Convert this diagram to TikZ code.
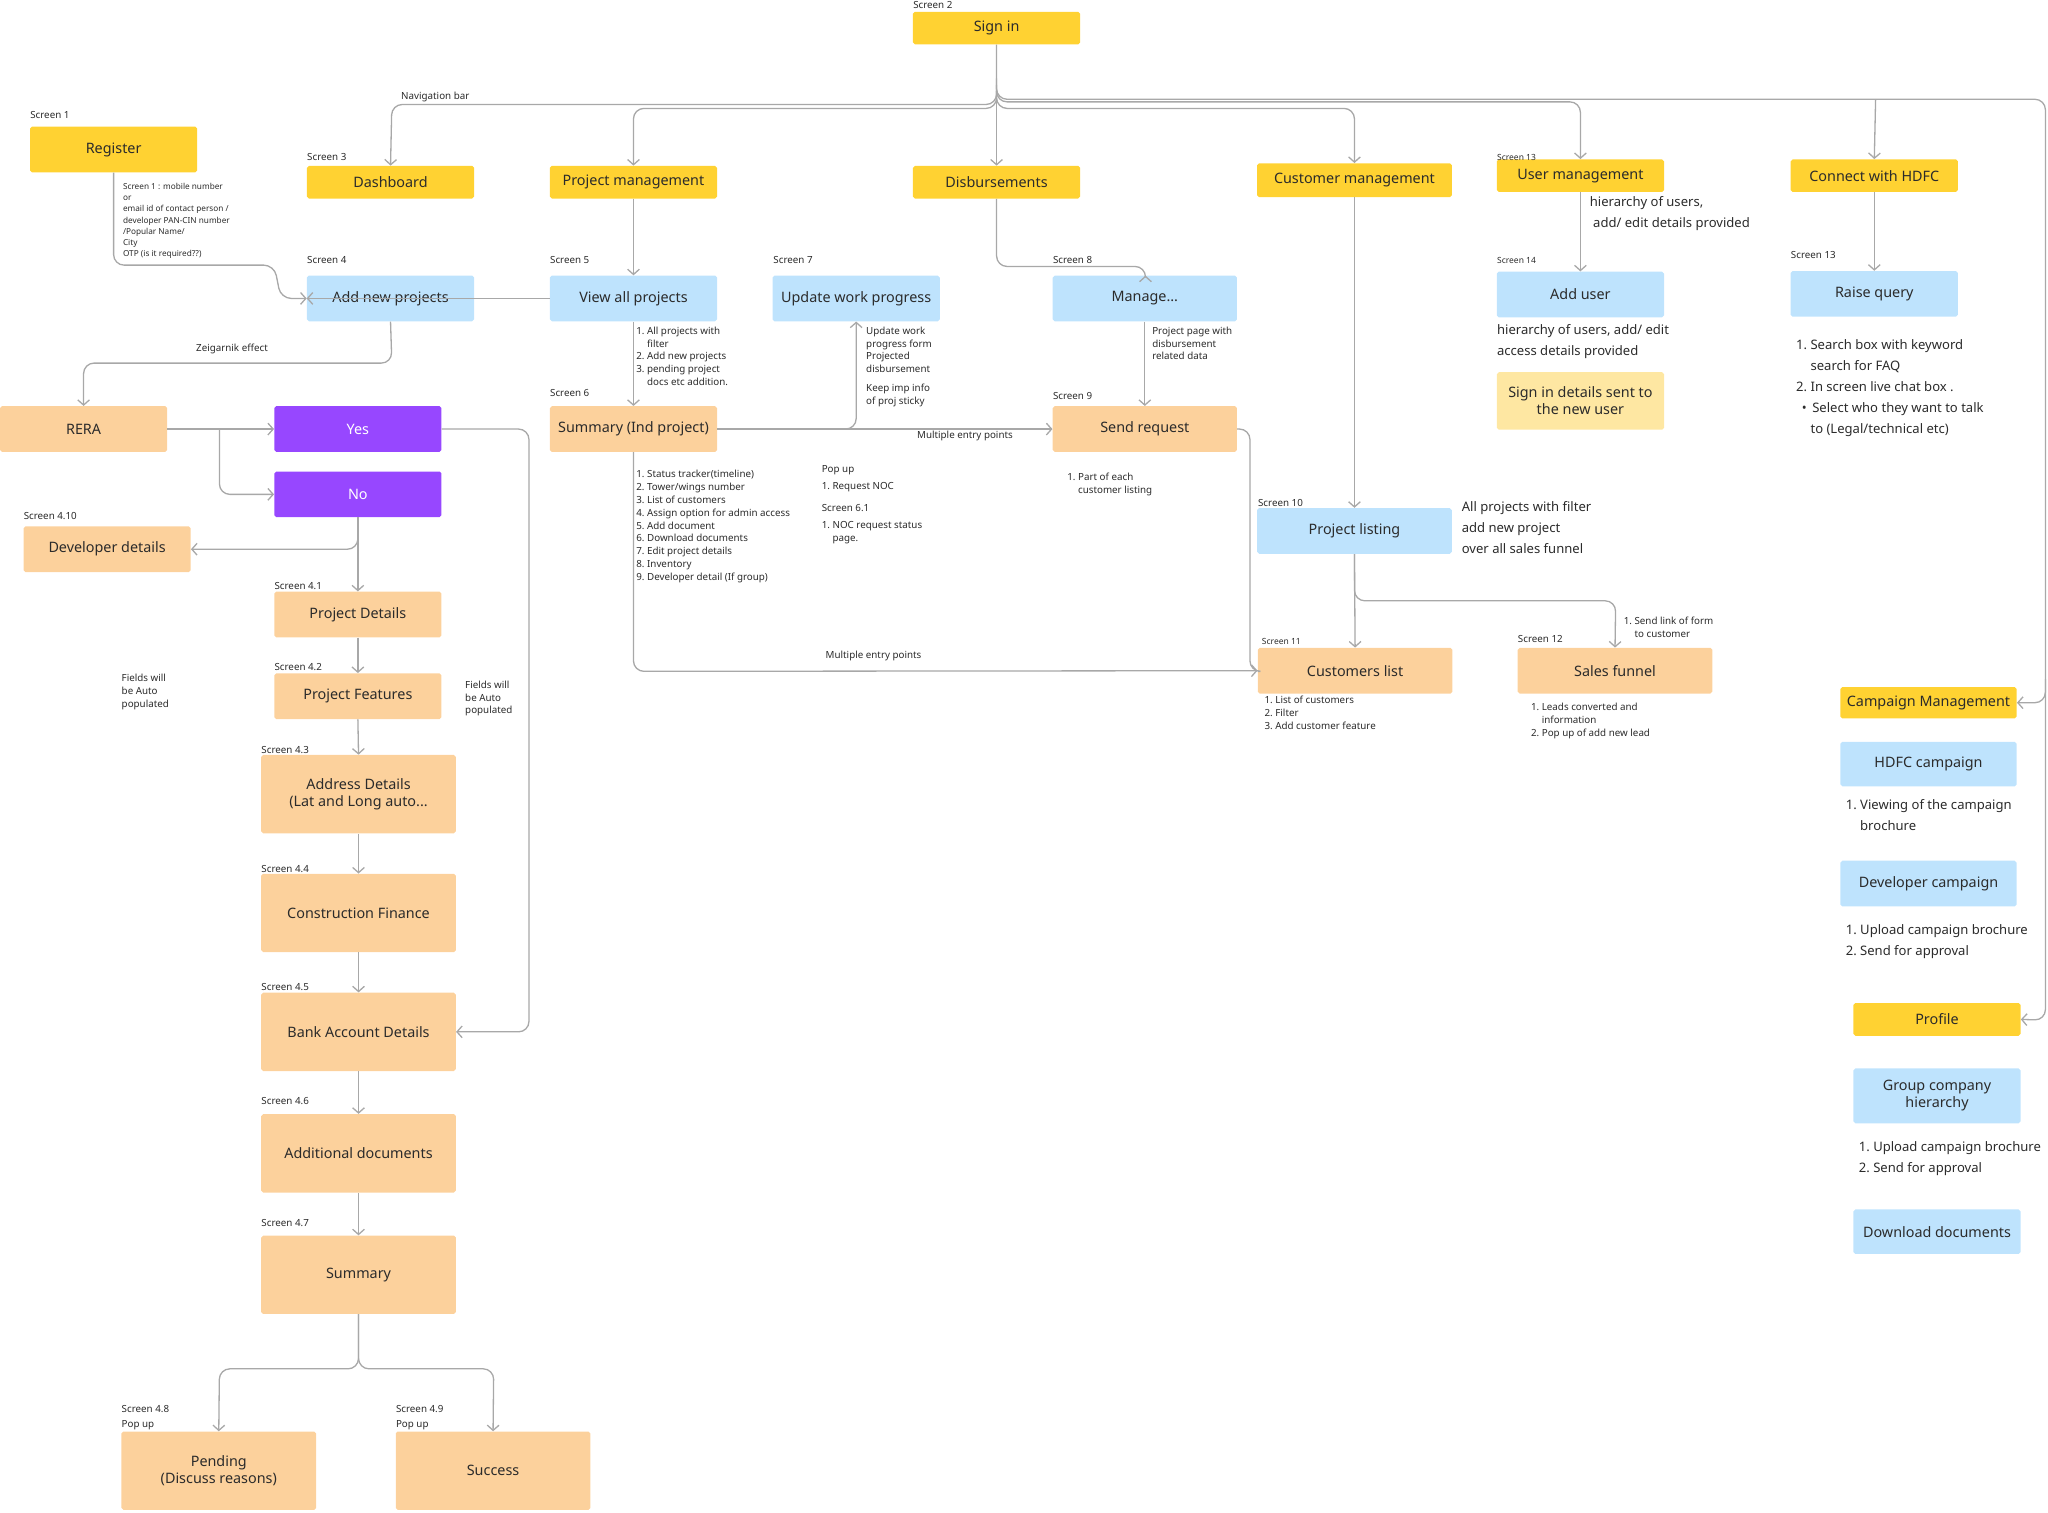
\documentclass[tikz,border=0pt]{standalone}
\usepackage{fontspec}
\setmainfont{Noto Sans}
\usetikzlibrary{arrows.meta}
\definecolor{yel}{HTML}{FFD232}
\definecolor{blu}{HTML}{BEE3FD}
\definecolor{ora}{HTML}{FCD19C}
\definecolor{pur}{HTML}{9747FF}
\definecolor{pyl}{HTML}{FEE7A2}
\definecolor{ln}{HTML}{A8A8A8}
\definecolor{tx}{HTML}{2B2B2B}
\newcommand{\hp}{\hphantom{1.~}}
\begin{document}
\begin{tikzpicture}[x=1pt,y=-1pt,
  bx/.style={rounded corners=1.5pt,inner sep=2pt,align=center,font=\fontsize{11}{13}\selectfont\bfseries,text=tx},
  yb/.style={bx,fill=yel},
  bb/.style={bx,fill=blu},
  ob/.style={bx,fill=ora},
  pb/.style={bx,fill=pur,text=white},
  sb/.style={bx,fill=pyl},
  s/.style={minimum width=128pt,minimum height=25pt},
  m/.style={minimum width=128pt,minimum height=35pt},
  l/.style={minimum width=149pt,minimum height=60pt},
  scr/.style={anchor=south west,inner sep=0pt,font=\fontsize{7.5}{9}\selectfont,text=tx},
  nt/.style={anchor=north west,inner sep=0pt,align=left,font=\fontsize{7.5}{9.8}\selectfont,text=tx},
  nb/.style={anchor=north west,inner sep=0pt,align=left,font=\fontsize{10}{16}\selectfont,text=tx},
  ar/.style={draw=ln,line width=1pt,rounded corners=8pt,-{Straight Barb[length=4pt,width=9pt]}},
  ln/.style={draw=ln,line width=1pt,rounded corners=8pt}]
\useasboundingbox (0,0) rectangle (1568,1158);
% boxes
\node[yb,s] (signin) at (763,21.5) {Sign in};
\node[scr] (s2) at (699,7) {Screen 2};
\node[yb,m] (register) at (87,114.5) {Register};
\node[scr] (s1) at (23,91) {Screen 1};
\node[yb,s] (dash) at (299,139.5) {Dashboard};
\node[scr] (s3) at (235,123) {Screen 3};
\node[yb,s] (pm) at (485,139.5) {Project management};
\node[yb,s] (disb) at (763,139.5) {Disbursements};
\node[yb,minimum width=149pt,minimum height=26pt] (cm) at (1037,138) {Customer management};
\node[yb,s] (um) at (1210,134.5) {User management};
\node[scr,font=\fontsize{6.5}{8}\selectfont] (s13a) at (1146,123) {Screen 13};
\node[yb,s] (hdfc) at (1435,134.5) {Connect with HDFC};
\node[bb,m] (anp) at (299,228.5) {Add new projects};
\node[scr] (s4) at (235,202) {Screen 4};
\node[bb,m] (vap) at (485,228.5) {View all projects};
\node[scr] (s5) at (421,202) {Screen 5};
\node[bb,m] (uwp) at (655.5,228.5) {Update work progress};
\node[scr] (s7) at (592,202) {Screen 7};
\node[bb,minimum width=141pt,minimum height=35pt] (man) at (876.5,228.5) {Manage...};
\node[scr] (s8) at (806,202) {Screen 8};
\node[bb,m] (adu) at (1210,225.5) {Add user};
\node[scr,font=\fontsize{6.5}{8}\selectfont] (s14) at (1146,202) {Screen 14};
\node[bb,m] (rq) at (1435,225) {Raise query};
\node[scr] (s13b) at (1371,198) {Screen 13};
\node[sb,minimum width=128pt,minimum height=44pt] (sid) at (1210,307) {Sign in details sent to\\the new user};
\node[ob,m] (rera) at (64,328.5) {RERA};
\node[pb,m] (yes) at (274,328.5) {Yes};
\node[pb,m] (no) at (274,378.5) {No};
\node[ob,m] (sip) at (485,328.5) {Summary (Ind project)};
\node[scr] (s6) at (421,304) {Screen 6};
\node[ob,minimum width=141pt,minimum height=35pt] (sr) at (876.5,328.5) {Send request};
\node[scr] (s9) at (806,306) {Screen 9};
\node[ob,m] (dd) at (82,420.5) {Developer details};
\node[scr] (s410) at (18,398) {Screen 4.10};
\node[bb,minimum width=149pt,minimum height=35pt] (pl) at (1037,406.5) {Project listing};
\node[scr] (s10) at (963,388) {Screen 10};
\node[ob,m] (pd) at (274,470.5) {Project Details};
\node[scr] (s41) at (210,452) {Screen 4.1};
\node[ob,m] (pf) at (274,533) {Project Features};
\node[scr] (s42) at (210,514) {Screen 4.2};
\node[ob,minimum width=149pt,minimum height=35pt] (cl) at (1037.5,513.5) {Customers list};
\node[scr,font=\fontsize{6.5}{8}\selectfont] (s11) at (966,494) {Screen 11};
\node[ob,minimum width=149pt,minimum height=35pt] (sf) at (1236.5,513.5) {Sales funnel};
\node[scr] (s12) at (1162,492) {Screen 12};
\node[yb,minimum width=135pt,minimum height=24pt] (camp) at (1476.5,538) {Campaign Management};
\node[bb,minimum width=135pt,minimum height=34pt] (hc) at (1476.5,585) {HDFC campaign};
\node[bb,minimum width=135pt,minimum height=35pt] (dc) at (1476.5,676.5) {Developer campaign};
\node[yb,minimum width=128pt,minimum height=25pt] (prof) at (1483,780.5) {Profile};
\node[bb,minimum width=128pt,minimum height=42pt] (gch) at (1483,839) {Group company\\hierarchy};
\node[bb,minimum width=128pt,minimum height=34pt] (dld) at (1483,943) {Download documents};
\node[ob,l] (addr) at (274.5,608) {Address Details\\(Lat and Long auto...};
\node[scr] (s43) at (200,577) {Screen 4.3};
\node[ob,l] (cf) at (274.5,699) {Construction Finance};
\node[scr] (s44) at (200,668) {Screen 4.4};
\node[ob,l] (bad) at (274.5,790) {Bank Account Details};
\node[scr] (s45) at (200,759) {Screen 4.5};
\node[ob,l] (adoc) at (274.5,883) {Additional documents};
\node[scr] (s46) at (200,846) {Screen 4.6};
\node[ob,l,font=\fontsize{11}{13}\selectfont] (sum) at (274.5,976) {Summary};
\node[scr] (s47) at (200,939) {Screen 4.7};
\node[ob,l] (pen) at (167.5,1126) {Pending\\(Discuss reasons)};
\node[scr] (s48) at (93,1082) {Screen 4.8};
\node[scr] (pu1) at (93,1095) {Pop up};
\node[ob,l] (suc) at (377.5,1126) {Success};
\node[scr] (s49) at (303,1082) {Screen 4.9};
\node[scr] (pu2) at (303,1095) {Pop up};
% connectors from sign in
\coordinate (hub) at (763,60);
\draw[ar] (signin.south) -- (763,80) -- (300,80) -- (dash.north);
\draw[ar] (763,70) -- (763,83) -- (485,83) -- (pm.north);
\draw[ar] (signin.south) -- (disb.north);
\draw[ar] (763,70) -- (763,83) -- (1037,83) -- (cm.north);
\draw[ar] (763,65) -- (763,78) -- (1210,78) -- (um.north);
\draw[ar] (763,60) -- (763,76) -- (1566,76) -- (1566,781) -- (prof.east);
\draw[ar] (1436,76) -- (hdfc.north);
\draw[ar] (1566,520) -- (1566,538) -- (camp.east);
\node[scr] (navl) at (307,78) {Navigation bar};
% left column
\draw[ar] (register.south) -- (87,203) -- (210,203) -- (215,228.5) -- (anp.west);
\draw[ar] (vap.west) -- (anp.west);
\draw[ar] (pm.south) -- (vap.north);
\draw[ar] (vap.south) -- (sip.north);
\draw[ar] (anp.south) -- (300,278) -- (64,278) -- (rera.north);
\node[scr] (zeig) at (150,271) {Zeigarnik effect};
\draw[ar] (rera.east) -- (yes.west);
\draw[ar] (168,328.5) -- (168,378.5) -- (no.west);
\draw[ar] (no.south) -- (274,420.5) -- (dd.east);
\draw[ar] (no.south) -- (pd.north);
\draw[ar] (pd.south) -- (pf.north);
\draw[ar] (pf.south) -- (addr.north);
\draw[ar] (addr.south) -- (cf.north);
\draw[ar] (cf.south) -- (bad.north);
\draw[ar] (bad.south) -- (adoc.north);
\draw[ar] (adoc.south) -- (sum.north);
\draw[ar] (yes.east) -- (405,328.5) -- (405,790) -- (bad.east);
\draw[ar] (sum.south) -- (274.5,1048) -- (168,1048) -- (pen.north);
\draw[ar] (sum.south) -- (274.5,1048) -- (378,1048) -- (suc.north);
% middle
\draw[ar] (sip.east) -- (sr.west);
\draw[ar] (sip.east) -- (655.5,328.5) -- (uwp.south);
\node[scr] (mep1) at (702,338) {Multiple entry points};
\draw[ar] (sip.south) -- (485,514) -- (cl.west);
\node[scr] (mep2) at (632,506) {Multiple entry points};
\draw[ar] (disb.south) -- (763,204) -- (877,204) -- (877,211);
\draw[ar] (man.south) -- (sr.north);
\draw[ln] (sr.east) -- (957,328.5) -- (957,514) -- (963,514);
% right
\draw[ar] (cm.south) -- (pl.north);
\draw[ar] (pl.south) -- (cl.north);
\draw[ar] (pl.south) -- (1037,460) -- (1237,460) -- (sf.north);
\draw[ar] (um.south) -- (adu.north);
\draw[ar] (hdfc.south) -- (rq.north);
% notes
\node[nt,font=\fontsize{6.3}{8.6}\selectfont] (n1) at (94,140) {Screen 1 : mobile number\\or\\email id of contact person /\\developer PAN-CIN number\\/Popular Name/\\City\\OTP (is it required??)};
\node[nt] (n2) at (487,250) {1.~All projects with\\\hp filter\\2.~Add new projects\\3.~pending project\\\hp docs etc addition.};
\node[nt] (n3) at (663,250) {Update work\\progress form\\Projected\\disbursement};
\node[nt] (n3b) at (663,294) {Keep imp info\\of proj sticky};
\node[nt] (n4) at (882,250) {Project page with\\disbursement\\related data};
\node[nt] (n5) at (487,360) {1.~Status tracker(timeline)\\2.~Tower/wings number\\3.~List of customers\\4.~Assign option for admin access\\5.~Add document\\6.~Download documents\\7.~Edit project details\\8.~Inventory\\9.~Developer detail (If group)};
\node[nt] (n6) at (629,356) {Pop up};
\node[nt] (n7) at (629,369) {1.~Request NOC};
\node[nt] (n8) at (629,386) {Screen 6.1};
\node[nt] (n9) at (629,399) {1.~NOC request status\\\hp page.};
\node[nt] (n10) at (817,362) {1.~Part of each\\\hp customer listing};
\node[nt] (n11) at (93,516) {Fields will\\be Auto\\populated};
\node[nt] (n12) at (356,521) {Fields will\\be Auto\\populated};
\node[nb] (n13) at (1217,150) {hierarchy of users,\\\ add/ edit details provided};
\node[nb] (n14) at (1146,248) {hierarchy of users, add/ edit\\access details provided};
\node[nb] (n15) at (1375,260) {1.~Search box with keyword\\\hp search for FAQ\\2.~In screen live chat box .\\\ \,•~\,Select who they want to talk\\\hp to (Legal/technical etc)};
\node[nb] (n16) at (1119,384) {All projects with filter\\add new project\\over all sales funnel};
\node[nt] (n17) at (1243,472) {1.~Send link of form\\\hp to customer};
\node[nt] (n18) at (968,533) {1.~List of customers\\2.~Filter\\3.~Add customer feature};
\node[nt] (n19) at (1172,538) {1.~Leads converted and\\\hp information\\2.~Pop up of add new lead};
\node[nb] (n20) at (1413,612) {1.~Viewing of the campaign\\\hp brochure};
\node[nb] (n21) at (1413,708) {1.~Upload campaign brochure\\2.~Send for approval};
\node[nb] (n22) at (1423,874) {1.~Upload campaign brochure\\2.~Send for approval};
\end{tikzpicture}
\end{document}
